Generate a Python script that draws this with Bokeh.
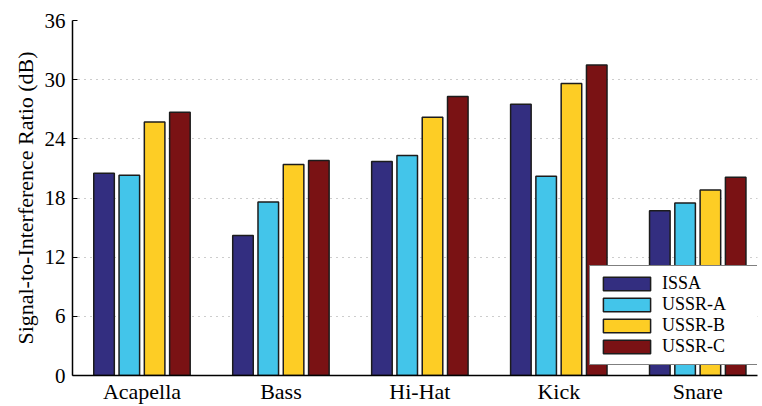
import numpy as np
from bokeh.plotting import figure
from bokeh.models import ColumnDataSource, FixedTicker, Legend, LegendItem, Range1d
from bokeh.embed import file_html
from bokeh.resources import INLINE

# Signal-to-interference ratio per instrument and method (dB)
categories = ["Acapella", "Bass", "Hi-Hat", "Kick", "Snare"]
series = ["ISSA", "USSR-A", "USSR-B", "USSR-C"]
issa = [20.5, 14.2, 21.7, 27.5, 16.7]
ussr_a = [20.3, 17.6, 22.3, 20.2, 17.5]
ussr_b = [25.7, 21.4, 26.2, 29.6, 18.8]
ussr_c = [26.7, 21.8, 28.3, 31.5, 20.1]
y_ticks = [0, 6, 12, 18, 24, 30, 36]

colors = ["#332E80", "#43C5EA", "#FDCD25", "#7A1214"]
values = [issa, ussr_a, ussr_b, ussr_c]

FONT = "Liberation Serif"

p = figure(width=762, height=406, output_backend="svg", toolbar_location=None,
           x_range=Range1d(0.5, 5.43), y_range=Range1d(0, 36))
p.min_border_left = 72
p.min_border_right = 5
p.min_border_top = 20
p.min_border_bottom = 30
p.outline_line_color = None
p.background_fill_color = "white"

pitch = 0.182
bar_w = 0.148
centers = np.arange(1, len(categories) + 1)
renderers = []
for i, (name, vals, col) in enumerate(zip(series, values, colors)):
    src = ColumnDataSource(dict(x=centers + (i - 1.5) * pitch, top=vals))
    r = p.vbar(x="x", top="top", bottom=0, width=bar_w, source=src,
               fill_color=col, line_color="#1c1c1c", line_width=1.5)
    renderers.append((name, r))

# axes
p.xaxis.ticker = FixedTicker(ticks=list(centers))
p.xaxis.major_label_overrides = {int(c): n for c, n in zip(centers, categories)}
p.xaxis.major_tick_in = 0
p.xaxis.major_tick_out = 0
p.xaxis.minor_tick_line_color = None
p.xaxis.axis_line_color = "black"
p.xaxis.axis_line_width = 1.5
p.xaxis.major_label_text_font = FONT
p.xaxis.major_label_text_font_size = "22px"
p.xaxis.major_label_text_color = "black"
p.xaxis.major_label_standoff = 3

p.yaxis.ticker = FixedTicker(ticks=y_ticks)
p.yaxis.major_tick_in = 5
p.yaxis.major_tick_out = 0
p.yaxis.major_tick_line_color = "black"
p.yaxis.minor_tick_line_color = None
p.yaxis.axis_line_color = "black"
p.yaxis.axis_line_width = 1.5
p.yaxis.major_label_text_font = FONT
p.yaxis.major_label_text_font_size = "21px"
p.yaxis.major_label_text_color = "black"
p.yaxis.major_label_standoff = 7
p.yaxis.axis_label = "Signal-to-Interference Ratio (dB)"
p.yaxis.axis_label_text_font = FONT
p.yaxis.axis_label_text_font_size = "22px"
p.yaxis.axis_label_text_font_style = "normal"
p.yaxis.axis_label_text_color = "black"
p.yaxis.axis_label_standoff = 4

p.xgrid.grid_line_color = None
p.ygrid.grid_line_color = "#9a9a9a"
p.ygrid.grid_line_dash = "1 5"
p.ygrid.grid_line_width = 1

legend = Legend(items=[LegendItem(label=n, renderers=[r]) for n, r in renderers],
                location=(517, 10), orientation="vertical")
legend.glyph_width = 59
legend.glyph_height = 17
legend.spacing = 0
legend.padding = 7
legend.margin = 0
legend.label_standoff = 6
legend.label_width = 89
legend.label_height = 17
legend.label_text_font = FONT
legend.label_text_font_size = "18px"
legend.label_text_color = "black"
legend.border_line_color = "black"
legend.border_line_width = 1
legend.background_fill_color = "white"
legend.background_fill_alpha = 1.0
p.add_layout(legend, "center")

open("out.html", "w").write(file_html(p, INLINE))
